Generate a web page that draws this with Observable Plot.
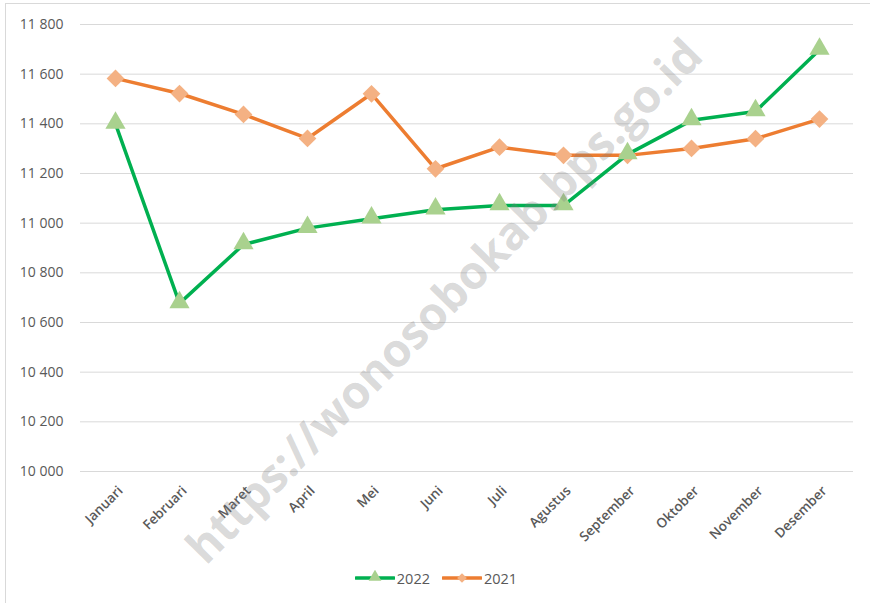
<!DOCTYPE html>
<html>
<head>
<meta charset="utf-8">
<script src="https://cdn.jsdelivr.net/npm/d3@7"></script>
<script src="https://cdn.jsdelivr.net/npm/@observablehq/plot@0.6"></script>
<style>
  html, body { margin: 0; padding: 0; background: #fff; overflow: hidden; }
  #wrap { position: relative; width: 870px; height: 603px; font-family: "Open Sans", "Liberation Sans", sans-serif; }
  #frame { position: absolute; left: 5px; top: 3px; width: 900px; height: 700px; border: 1px solid #d9d9d9; pointer-events: none; box-sizing: border-box; }
  #legend { display: flex; justify-content: center; align-items: center; height: 46px; gap: 12px; font-size: 14.5px; color: #595959; padding-left: 2px; }
  .item { display: flex; align-items: center; gap: 2px; }
  svg { display: block; }
  #chart svg { overflow: visible; position: relative; z-index: 1; }
</style>
</head>
<body>
<div id="wrap">
  <div id="chart"></div>
  <div id="legend"></div>
  <div id="frame"></div>
</div>
<script>
const months = ["Januari","Februari","Maret","April","Mei","Juni","Juli","Agustus","September","Oktober","November","Desember"];
const values2022 = [11400, 10677, 10914, 10980, 11018, 11054, 11071, 11071, 11277, 11414, 11450, 11698];
const values2021 = [11583, 11522, 11438, 11341, 11521, 11219, 11306, 11273, 11273, 11301, 11340, 11419];
const yTicks = [10000, 10200, 10400, 10600, 10800, 11000, 11200, 11400, 11600, 11800];
const series = ["2022", "2021"];
const watermark = "https://wonosobokab.bps.go.id";

const lineColor = {"2022": "#00B050", "2021": "#ED7D31"};
const markColor = {"2022": "#A9D18E", "2021": "#F4B183"};

const rows = [];
months.forEach((m, i) => {
  rows.push({month: m, value: values2022[i], series: "2022"});
  rows.push({month: m, value: values2021[i], series: "2021"});
});

const fmt = d => d3.format(",")(d).replace(/,/g, " ");

const chart = Plot.plot({
  width: 870,
  height: 555,
  marginLeft: 80,
  marginRight: 17,
  marginTop: 24,
  marginBottom: 84,
  style: {fontFamily: "'Open Sans', 'Liberation Sans', sans-serif", background: "transparent", overflow: "visible"},
  x: {type: "point", domain: months, padding: 0.5, label: null},
  y: {domain: [10000, 11800], label: null},
  marks: [
    Plot.gridY(yTicks, {stroke: "#d9d9d9", strokeOpacity: 1, strokeWidth: 1}),
    Plot.axisY(yTicks, {tickSize: 0, tickPadding: 17, tickFormat: fmt, fontSize: 14, fill: "#595959", label: null}),
    Plot.axisX({tickSize: 0, tickPadding: 17, tickRotate: -45, fontSize: 13.5, fontWeight: 600, fill: "#595959", dx: 5, label: null}),
    Plot.line(rows.filter(d => d.series === "2021"), {x: "month", y: "value", stroke: lineColor["2021"], strokeWidth: 3.5}),
    Plot.dot(rows.filter(d => d.series === "2021"), {x: "month", y: "value", symbol: "diamond2", r: 8, fill: markColor["2021"], stroke: "none"}),
    Plot.line(rows.filter(d => d.series === "2022"), {x: "month", y: "value", stroke: lineColor["2022"], strokeWidth: 3.5}),
    Plot.dot(rows.filter(d => d.series === "2022"), {x: "month", y: "value", symbol: "triangle", r: 7.5, fill: markColor["2022"], stroke: "none", dy: -1}),
    Plot.text([watermark], {frameAnchor: "middle", rotate: -45.5, fontSize: 46, fontWeight: "bold", fill: "#7f7f7f", fillOpacity: 0.3, dx: -22, dy: 54, fontFamily: "'Open Sans', sans-serif"})
  ]
});
document.getElementById("chart").appendChild(chart);

// Legend
const legend = d3.select("#legend");
series.forEach(s => {
  const item = legend.append("div").attr("class", "item");
  const sw = item.append("svg").attr("width", 40).attr("height", 16);
  sw.append("line").attr("x1", 1).attr("x2", 39).attr("y1", 8).attr("y2", 8)
    .attr("stroke", lineColor[s]).attr("stroke-width", 3.5).attr("stroke-linecap", "round");
  const sym = s === "2022" ? d3.symbolTriangle : d3.symbolDiamond2;
  sw.append("path").attr("d", d3.symbol(sym, s === "2022" ? 70 : 60)())
    .attr("transform", s === "2022" ? "translate(20,7)" : "translate(20,8)")
    .attr("fill", markColor[s]);
  item.append("span").text(s);
});
</script>
</body>
</html>
